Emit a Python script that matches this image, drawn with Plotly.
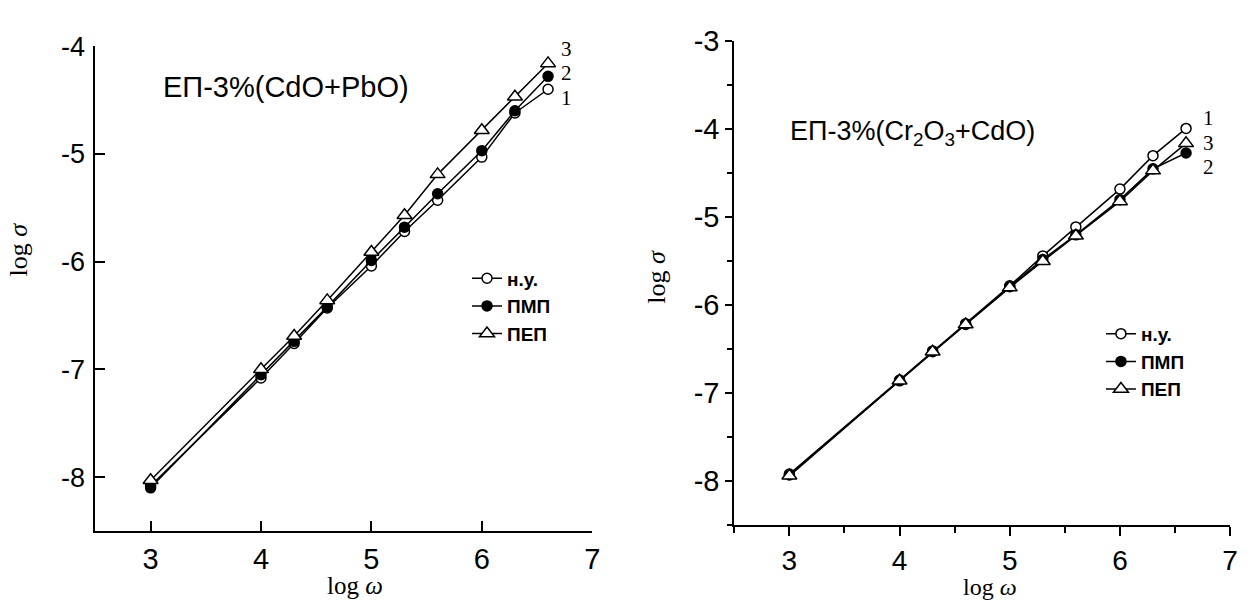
import plotly.graph_objects as go

# log(omega) sampling points shared by both panels
log_w = [3, 4, 4.3, 4.6, 5, 5.3, 5.6, 6, 6.3, 6.6]

# Panel 1: EP-3%(CdO+PbO)
a_nu  = [-8.08, -7.08, -6.76, -6.43, -6.04, -5.72, -5.43, -5.03, -4.62, -4.40]
a_pmp = [-8.10, -7.05, -6.74, -6.42, -5.99, -5.68, -5.37, -4.97, -4.60, -4.28]
a_pep = [-8.03, -7.00, -6.69, -6.36, -5.91, -5.57, -5.19, -4.78, -4.47, -4.16]

# Panel 2: EP-3%(Cr2O3+CdO)
b_nu  = [-7.92, -6.85, -6.52, -6.21, -5.78, -5.44, -5.11, -4.68, -4.30, -3.99]
b_pmp = [-7.93, -6.86, -6.53, -6.22, -5.79, -5.48, -5.20, -4.80, -4.45, -4.27]
b_pep = [-7.94, -6.86, -6.53, -6.22, -5.80, -5.50, -5.21, -4.82, -4.47, -4.16]

series_names = ["н.у.", "ПМП", "ПЕП"]
curve_numbers = ["1", "2", "3"]
x_ticks = [3, 4, 5, 6, 7]
y_ticks_a = [-8, -7, -6, -5, -4]
y_ticks_b = [-8, -7, -6, -5, -4, -3]

W, H = 1257, 601
SANS = "Liberation Sans, Arial"
SERIF = "Liberation Serif, Times New Roman, serif"

marker_styles = [
    dict(symbol="circle", size=10, color="white", line=dict(color="black", width=1.5)),
    dict(symbol="circle", size=10, color="black", line=dict(color="black", width=1.5)),
    dict(symbol="triangle-up", size=13, color="white", line=dict(color="black", width=1.5)),
]

fig = go.Figure()

for ys, ax, lg in [((a_nu, a_pmp, a_pep), ("x", "y"), "legend"),
                   ((b_nu, b_pmp, b_pep), ("x2", "y2"), "legend2")]:
    for name, y, mk in zip(series_names, ys, marker_styles):
        fig.add_trace(go.Scatter(
            x=log_w, y=y, name=name, mode="lines+markers",
            xaxis=ax[0], yaxis=ax[1], legend=lg,
            line=dict(color="black", width=1.5), marker=mk,
        ))

def px_x(p):
    return p / W

def px_y(p):
    return 1 - p / H

def plain_labels(vals):
    # hyphen-minus labels, as in the printed figure
    return [str(v) for v in vals]

line_style = dict(showline=True, linecolor="black", linewidth=2, showgrid=False,
                  zeroline=False, tickwidth=2, tickcolor="black")

fig.update_layout(
    width=W, height=H,
    margin=dict(l=0, r=0, t=0, b=0),
    paper_bgcolor="white", plot_bgcolor="white",
    showlegend=True,
    xaxis=dict(domain=[px_x(96), px_x(596)], range=[2.5, 7],
               tickvals=x_ticks, ticktext=plain_labels(x_ticks),
               anchor="y", ticks="inside", ticklen=10,
               tickfont=dict(family=SANS, size=29, color="black"),
               ticklabelstandoff=1, **line_style),
    yaxis=dict(domain=[px_y(529), px_y(31)], range=[-8.5, -4],
               tickvals=y_ticks_a, ticktext=plain_labels(y_ticks_a),
               anchor="x", ticks="inside", ticklen=10,
               tickfont=dict(family=SANS, size=27, color="black"),
               ticklabelstandoff=3, **line_style),
    xaxis2=dict(domain=[px_x(739), px_x(1238)], range=[2.5, 7],
                tickvals=x_ticks, ticktext=plain_labels(x_ticks),
                anchor="y2", ticks="outside", ticklen=9,
                minor=dict(ticks="outside", ticklen=6, tickwidth=2, tickcolor="black",
                           tickvals=[2.5, 3.5, 4.5, 5.5, 6.5]),
                tickfont=dict(family=SANS, size=28, color="black"),
                ticklabelstandoff=0, **line_style),
    yaxis2=dict(domain=[px_y(523), px_y(26)], range=[-8.5, -3],
                tickvals=y_ticks_b, ticktext=plain_labels(y_ticks_b),
                anchor="x2", ticks="outside", ticklen=7,
                minor=dict(ticks="outside", ticklen=5, tickwidth=2, tickcolor="black",
                           tickvals=[-8.5, -7.5, -6.5, -5.5, -4.5, -3.5]),
                tickfont=dict(family=SANS, size=29, color="black"), **line_style),
    legend=dict(x=px_x(470), y=px_y(250), xanchor="left", yanchor="top",
                bgcolor="rgba(0,0,0,0)", itemwidth=30, tracegroupgap=0,
                font=dict(family=SANS, size=19, color="black", weight="bold")),
    legend2=dict(x=px_x(1108), y=px_y(307), xanchor="left", yanchor="top",
                 bgcolor="rgba(0,0,0,0)", itemwidth=30, tracegroupgap=0,
                 font=dict(family=SANS, size=19, color="black", weight="bold")),
)

annotations = [
    # panel titles
    dict(text="ЕП-3%(CdO+PbO)", x=px_x(162), y=px_y(73), xanchor="left", yanchor="middle",
         font=dict(family=SANS, size=29, color="black")),
    dict(text="ЕП-3%(Cr<sub>2</sub>O<sub>3</sub>+CdO)", x=px_x(793), y=px_y(120),
         xanchor="left", yanchor="middle", font=dict(family=SANS, size=27, color="black")),
    # axis titles
    dict(text="log <i>ω</i>", x=px_x(357), y=0, xanchor="center", yanchor="bottom",
         font=dict(family=SERIF, size=25, color="black")),
    dict(text="log <i>ω</i>", x=px_x(996), y=0, xanchor="center", yanchor="bottom",
         borderpad=0, font=dict(family=SERIF, size=24, color="black")),
    dict(text="log <i>σ</i>", x=px_x(19), y=px_y(240), xanchor="center", yanchor="middle",
         textangle=-90, font=dict(family=SERIF, size=26, color="black")),
    dict(text="log <i>σ</i>", x=px_x(661), y=px_y(268), xanchor="center", yanchor="middle",
         textangle=-90, font=dict(family=SERIF, size=26, color="black")),
]
for a in annotations:
    a.update(xref="paper", yref="paper", showarrow=False)
    fig.add_annotation(**a)

# curve numbers next to the last points
label_y_a = [px_y(84), px_y(59), px_y(34)]
for num, yy in zip(curve_numbers, label_y_a):
    fig.add_annotation(text=num, xref="paper", yref="paper", x=px_x(570), y=yy,
                       showarrow=False, xanchor="center", yanchor="middle", borderpad=0,
                       font=dict(family=SERIF, size=21, color="black"))
label_y_b = [px_y(105), px_y(155), px_y(130)]
for num, yy in zip(curve_numbers, label_y_b):
    fig.add_annotation(text=num, xref="paper", yref="paper", x=px_x(1216), y=yy,
                       showarrow=False, xanchor="center", yanchor="middle", borderpad=0,
                       font=dict(family=SERIF, size=21, color="black"))

fig.write_html("out.html")
